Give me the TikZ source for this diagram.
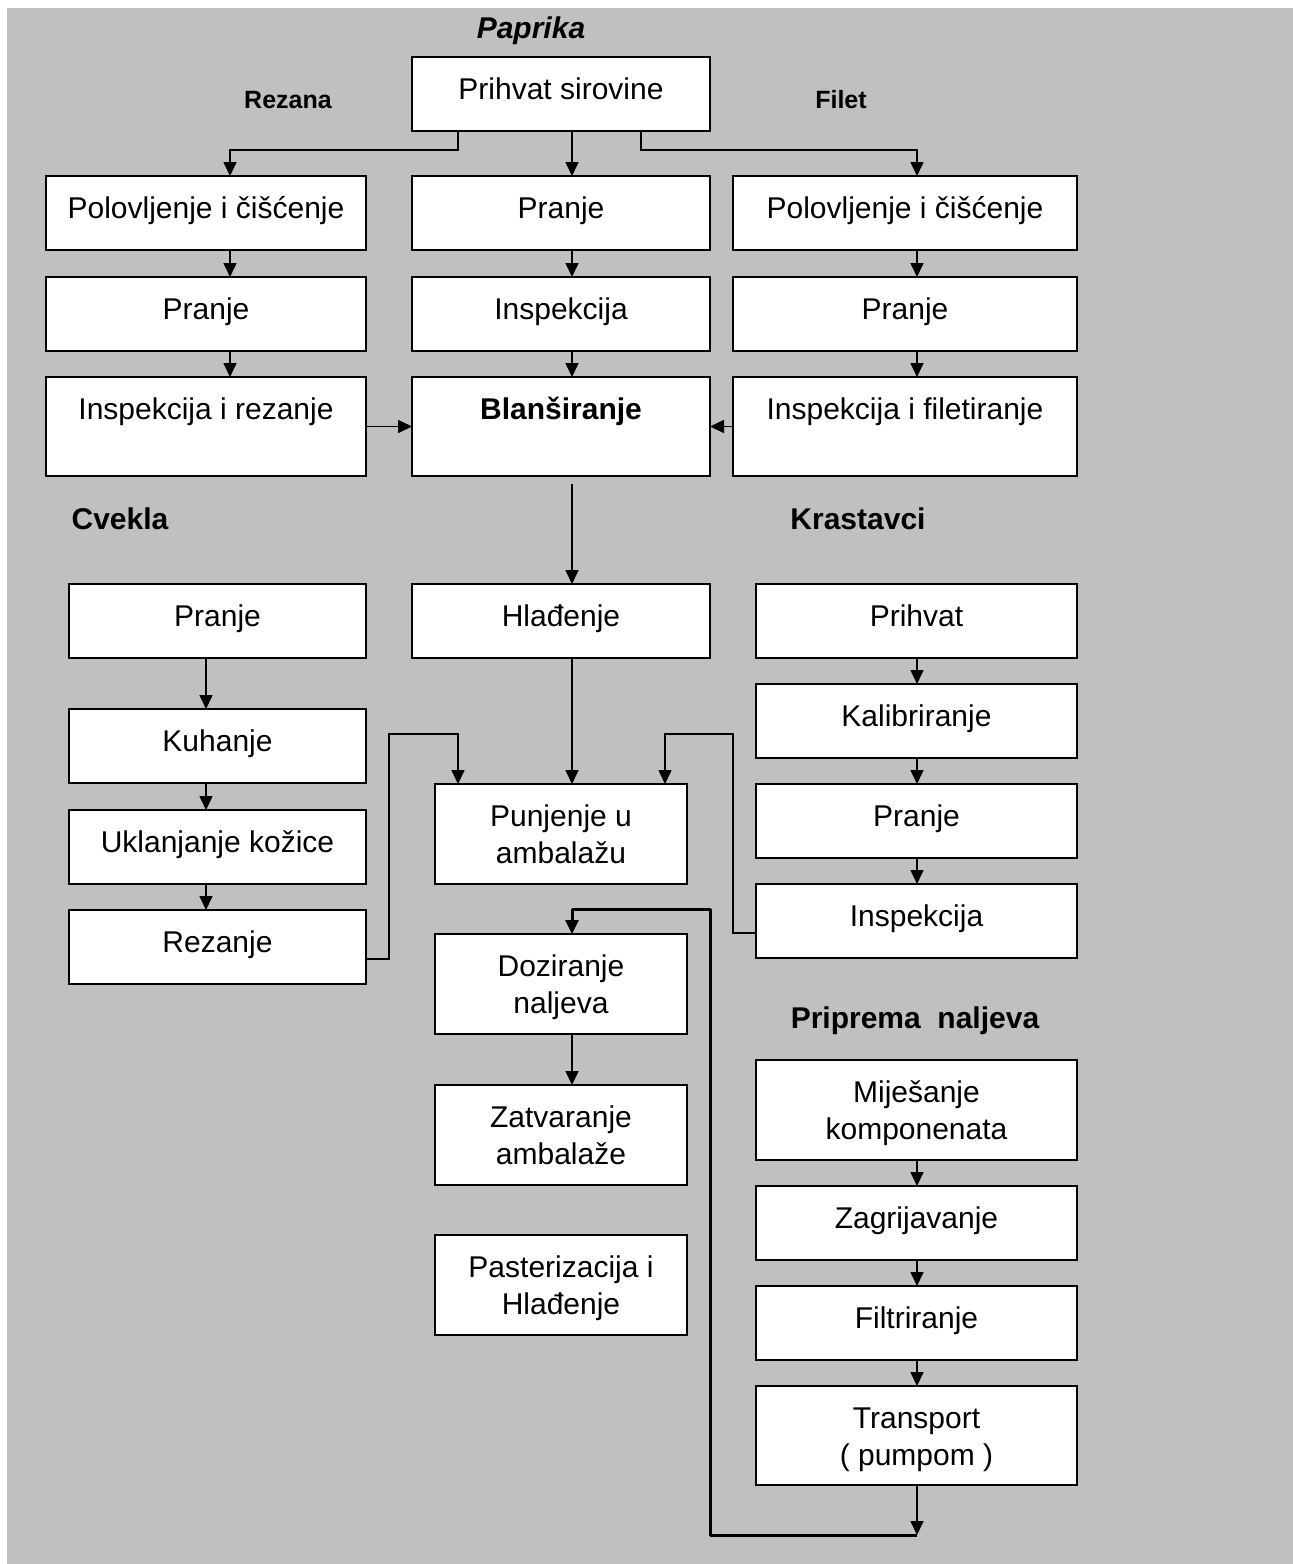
\documentclass[tikz,border=0pt]{standalone}
\usepackage{fontspec}
\setmainfont{Liberation Sans}
\usetikzlibrary{arrows.meta,calc}
\definecolor{bggray}{HTML}{C0C0C0}
\tikzset{
  pbox/.style={draw=black, fill=white, line width=1.8pt, inner sep=0pt, outer sep=0pt},
  ptext/.style={anchor=base, inner sep=0pt, font=\fontsize{30}{37}\selectfont},
  hdr/.style={anchor=base, inner sep=0pt, font=\fontsize{30}{37}\selectfont\bfseries},
  subhdr/.style={anchor=base, inner sep=0pt, font=\fontsize{25}{30}\selectfont\bfseries},
  arr/.style={line width=1.6pt, -{Triangle[width=13pt,length=14pt]}},
  loop/.style={line width=3pt, -{Triangle[width=13pt,length=14pt]}}
}
\newcommand\pbx[6]{%
  \node[pbox, minimum width={#4-#2}, minimum height={#5-#3}] (#1) at ({(#2+#4)/2},{(#3+#5)/2}) {};
  \node[ptext] (#1t) at ($(#1.north)+(0,42)$) {\begin{tabular}[t]{@{}c@{}}#6\end{tabular}};
}
\begin{document}
\begin{tikzpicture}[x=1pt,y=-1pt]
\useasboundingbox (0,0) rectangle (1293,1564);
\fill[white] (0,0) rectangle (1293,1564);
\fill[bggray] (7,8) rectangle (1293,1564);

% headers
\node[hdr, font=\fontsize{30}{37}\selectfont\bfseries\itshape] (hpap) at (531,38) {Paprika};
\node[subhdr] (hrez) at (288,108) {Rezana};
\node[subhdr] (hfil) at (841,108) {Filet};
\node[hdr] (hcve) at (120,529) {Cvekla};
\node[hdr] (hkra) at (858,529) {Krastavci};
\node[hdr] (hpri) at (915,1028) {Priprema\ \ naljeva};

% paprika
\pbx{prihvat}{412}{57}{710}{131}{Prihvat sirovine}
\pbx{lpol}{46}{176}{366}{250}{Polovljenje i čišćenje}
\pbx{lpra}{46}{277}{366}{351}{Pranje}
\pbx{lins}{46}{377}{366}{476}{Inspekcija i rezanje}
\pbx{mpra}{412}{176}{710}{250}{Pranje}
\pbx{mins}{412}{277}{710}{351}{Inspekcija}
\pbx{blan}{412}{377}{710}{476}{\textbf{Blanširanje}}
\pbx{rpol}{733}{176}{1077}{250}{Polovljenje i čišćenje}
\pbx{rpra}{733}{277}{1077}{351}{Pranje}
\pbx{rins}{733}{377}{1077}{476}{Inspekcija i filetiranje}

% cvekla
\pbx{cpra}{69}{584}{366}{658}{Pranje}
\pbx{ckuh}{69}{709}{366}{783}{Kuhanje}
\pbx{cukl}{69}{810}{366}{884}{Uklanjanje kožice}
\pbx{crez}{69}{910}{366}{984}{Rezanje}

% middle
\pbx{hlad}{412}{584}{710}{658}{Hlađenje}
\pbx{punj}{435}{784}{687}{884}{Punjenje u\\ambalažu}
\pbx{doz}{435}{934}{687}{1034}{Doziranje\\naljeva}
\pbx{zatv}{435}{1085}{687}{1185}{Zatvaranje\\ambalaže}
\pbx{past}{435}{1235}{687}{1335}{Pasterizacija i\\Hlađenje}

% krastavci
\pbx{kpri}{756}{584}{1077}{658}{Prihvat}
\pbx{kkal}{756}{684}{1077}{758}{Kalibriranje}
\pbx{kpra}{756}{784}{1077}{858}{Pranje}
\pbx{kins}{756}{884}{1077}{958}{Inspekcija}

% priprema naljeva
\pbx{nmij}{756}{1060}{1077}{1160}{Miješanje\\komponenata}
\pbx{nzag}{756}{1186}{1077}{1260}{Zagrijavanje}
\pbx{nfil}{756}{1286}{1077}{1360}{Filtriranje}
\pbx{ntra}{756}{1386}{1077}{1485}{Transport\\( pumpom )}

% column coordinates
\coordinate (xl) at (230,0);
\coordinate (xm) at (572,0);
\coordinate (xr) at (917,0);
\coordinate (xc) at (206,0);
\coordinate (xa) at (458,0);
\coordinate (xb) at (641,0);
\coordinate (xp) at (665,0);
\coordinate (lp) at (917,1535);

% connectors paprika
\draw[arr] (prihvat.south -| xa) -- ++(0,19) -| (lpol.north -| xl);
\draw[arr] (prihvat.south -| xm) -- (mpra.north -| xm);
\draw[arr] (prihvat.south -| xb) -- ++(0,19) -| (rpol.north -| xr);
\draw[arr] (lpol.south -| xl) -- (lpra.north -| xl);
\draw[arr] (lpra.south -| xl) -- (lins.north -| xl);
\draw[arr] (mpra.south -| xm) -- (mins.north -| xm);
\draw[arr] (mins.south -| xm) -- (blan.north -| xm);
\draw[arr] (rpol.south -| xr) -- (rpra.north -| xr);
\draw[arr] (rpra.south -| xr) -- (rins.north -| xr);
\draw[arr] (lins.east) -- (blan.west);
\draw[arr] (rins.west) -- (blan.east);
\draw[arr] ($(blan.south -| xm)+(0,8)$) -- (hlad.north -| xm);

% cvekla
\draw[arr] (cpra.south -| xc) -- (ckuh.north -| xc);
\draw[arr] (ckuh.south -| xc) -- (cukl.north -| xc);
\draw[arr] (cukl.south -| xc) -- (crez.north -| xc);

% krastavci
\draw[arr] (kpri.south -| xr) -- (kkal.north -| xr);
\draw[arr] (kkal.south -| xr) -- (kpra.north -| xr);
\draw[arr] (kpra.south -| xr) -- (kins.north -| xr);

% priprema
\draw[arr] (nmij.south -| xr) -- (nzag.north -| xr);
\draw[arr] (nzag.south -| xr) -- (nfil.north -| xr);
\draw[arr] (nfil.south -| xr) -- (ntra.north -| xr);

% into Punjenje
\draw[arr] (hlad.south -| xm) -- (punj.north -| xm);
\draw[arr] ($(crez.east)+(0,12)$) -- ++(23,0) |- ($(punj.north -| xa)+(0,-50)$) -- (punj.north -| xa);
\draw[arr] ($(kins.west)+(0,12)$) -- ++(-23,0) |- ($(punj.north -| xp)+(0,-50)$) -- (punj.north -| xp);

% middle chain
\draw[arr] (doz.south -| xm) -- (zatv.north -| xm);

% loop from transport to doziranje
\draw[arr] (ntra.south -| xr) -- (lp);
\draw[loop, line join=round] (lp) -- ++(-207,0) |- ($(doz.north -| xm)+(0,-25)$) -- (doz.north -| xm);
\end{tikzpicture}
\end{document}
